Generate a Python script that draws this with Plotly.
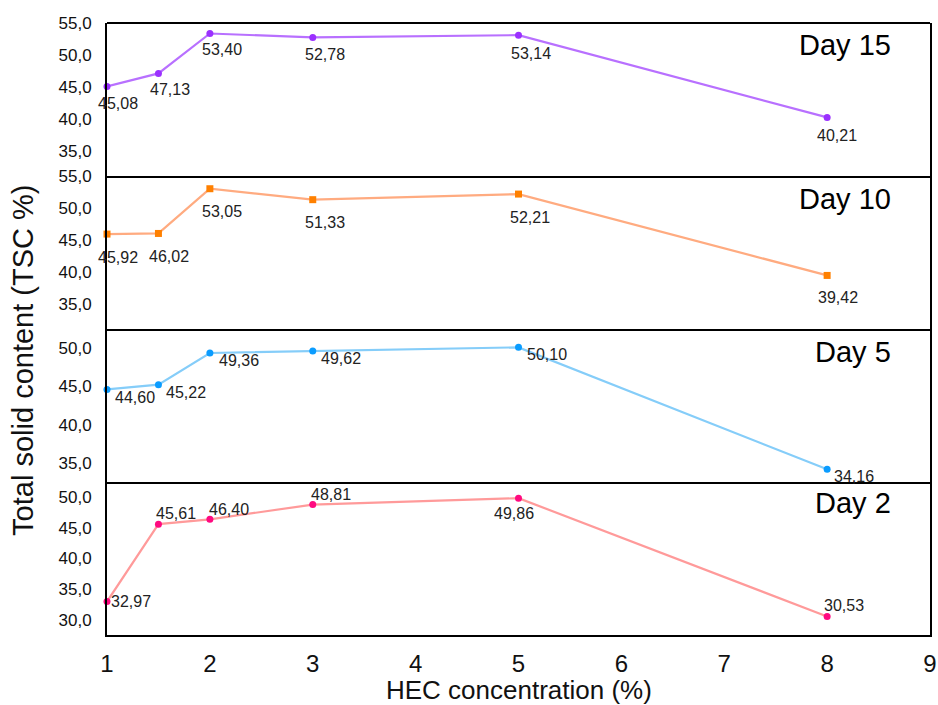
import plotly.graph_objects as go
from plotly.subplots import make_subplots

# ---- data ----
hec = [1, 1.5, 2, 3, 5, 8]
days = ["Day 15", "Day 10", "Day 5", "Day 2"]
day15 = [45.08, 47.13, 53.40, 52.78, 53.14, 40.21]
day10 = [45.92, 46.02, 53.05, 51.33, 52.21, 39.42]
day5 = [44.60, 45.22, 49.36, 49.62, 50.10, 34.16]
day2 = [32.97, 45.61, 46.40, 48.81, 49.86, 30.53]
series = [day15, day10, day5, day2]
x_ticks = [1, 2, 3, 4, 5, 6, 7, 8, 9]

# ---- styles ----
line_colors = ["#b870ff", "#ffab80", "#85cdf9", "#ff9a9a"]
marker_colors = ["#9b30ff", "#ff8000", "#0a9cff", "#ff0a80"]
marker_symbols = ["circle", "square", "circle", "circle"]
y_ranges = [[31, 55.05], [31, 55.05], [32.5, 52.5], [27.5, 52.5]]
y_tickvals = [[35, 40, 45, 50, 55], [35, 40, 45, 50, 55], [35, 40, 45, 50], [30, 35, 40, 45, 50]]
# label pixel offsets (dx right, dy down)
label_offsets = [
    [(11, 17), (12, 16), (12, 16), (12, 17), (12, 18), (10, 18)],
    [(11, 23), (11, 23), (12, 23), (12, 23), (11, 23), (11, 22)],
    [(28, 8), (28, 8), (29, 7), (28, 7), (28, 7), (27, 7)],
    [(24, 0), (18, -11), (19, -10), (18, -10), (-5, 15), (17, -11)],
]
day_label_y = [0.856, 0.85, 0.85, 0.86]

FONT = "Liberation Sans, Arial, sans-serif"

fig = make_subplots(rows=4, cols=1, shared_xaxes=True, vertical_spacing=0)

for i, (name, vals) in enumerate(zip(days, series)):
    r = i + 1
    fig.add_trace(
        go.Scatter(
            x=hec, y=vals, mode="lines+markers", name=name,
            line=dict(color=line_colors[i], width=2.2),
            marker=dict(color=marker_colors[i], symbol=marker_symbols[i], size=7),
            cliponaxis=False, showlegend=False,
        ),
        row=r, col=1,
    )
    ax = "" if r == 1 else str(r)
    for (xv, yv), (dx, dy) in zip(zip(hec, vals), label_offsets[i]):
        fig.add_annotation(
            x=xv, y=yv, xref=f"x{ax}", yref=f"y{ax}",
            text=f"{yv:.2f}".replace(".", ","), showarrow=False,
            xshift=dx, yshift=-dy,
            font=dict(family=FONT, size=16, color="#222222"),
        )
    fig.add_annotation(
        x=0.955, y=day_label_y[i], xref=f"x{ax} domain", yref=f"y{ax} domain",
        text=name, showarrow=False, xanchor="right", yanchor="middle",
        font=dict(family=FONT, size=29, color="#000000"),
    )
    fig.update_yaxes(
        range=y_ranges[i], tickvals=y_tickvals[i], tickformat=".1f",
        showline=True, mirror=True, linecolor="black", linewidth=2,
        showgrid=False, zeroline=False, ticks="", ticklabelstandoff=10,
        automargin=False,
        tickfont=dict(family=FONT, size=17, color="#111111"),
        row=r, col=1,
    )
    fig.update_xaxes(
        range=[1, 9], tickvals=x_ticks,
        showline=True, mirror=False, linecolor="black", linewidth=2,
        showgrid=False, zeroline=False, ticks="", automargin=False,
        tickfont=dict(family=FONT, size=24, color="#111111"),
        row=r, col=1,
    )

fig.update_xaxes(ticklabelstandoff=6, row=4, col=1)

# top border of the top panel
fig.add_shape(
    type="line", xref="x domain", yref="y domain",
    x0=0, x1=1, y0=1, y1=1, line=dict(color="black", width=2),
)

fig.add_annotation(
    x=0.5, y=-0.09, xref="paper", yref="paper", xanchor="center", yanchor="middle",
    text="HEC concentration (%)", showarrow=False,
    font=dict(family=FONT, size=26, color="#111111"),
)
fig.add_annotation(
    x=-0.102, y=0.448, xref="paper", yref="paper", xanchor="center", yanchor="middle",
    text="Total solid content (TSC %)", textangle=-90, showarrow=False,
    font=dict(family=FONT, size=29, color="#111111"),
)

fig.update_layout(
    width=938, height=705,
    margin=dict(l=107, r=8, t=23, b=70),
    plot_bgcolor="white", paper_bgcolor="white",
    separators=", ",
    font=dict(family=FONT),
)

fig.write_html(
    "out.html",
    config={"displayModeBar": False},
    post_script="document.body.style.margin='0';document.body.style.overflow='hidden';",
)
